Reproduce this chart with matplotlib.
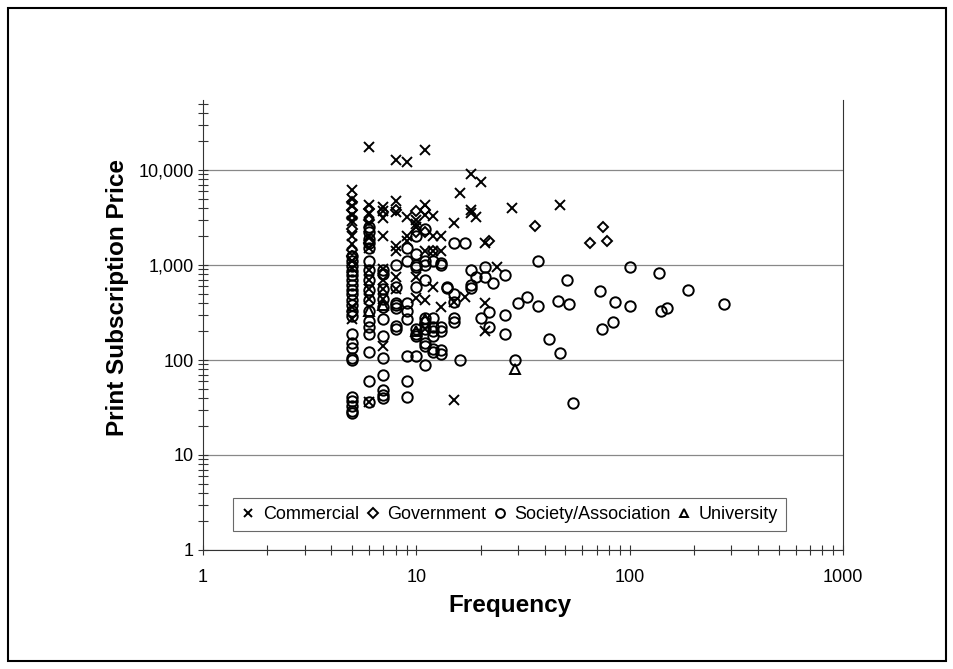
import matplotlib
matplotlib.use("Agg")
import matplotlib.pyplot as plt
from matplotlib.patches import Rectangle
from matplotlib.ticker import FixedLocator, LogLocator, NullFormatter

plt.rcParams['font.family'] = ['Liberation Sans', 'DejaVu Sans']

# frequency (issues per year) and print subscription price
commercial_freq = [5, 5, 5, 5, 5, 5, 5, 5, 5, 5, 5,
                   6, 6, 6, 6, 6, 6, 6, 6, 6, 6, 6,
                   7, 7, 7, 7, 7, 7, 7, 7, 7,
                   8, 8, 8, 8, 8, 8, 8,
                   9, 9, 9, 9,
                   10, 10, 10, 10, 10,
                   11, 11, 11, 11, 11, 11,
                   12, 12, 12, 12,
                   13, 13, 13,
                   15, 15, 15,
                   16, 17, 18, 18, 18, 19, 20,
                   21, 21, 21, 24, 28, 47]
commercial_price = [6100, 4900, 4200, 3400, 2900, 2000, 1650, 1100, 940, 360, 270,
                    17500, 4300, 3500, 2800, 2000, 1500, 880, 700, 560, 440, 36,
                    4100, 3700, 3100, 2000, 900, 700, 560, 440, 140,
                    12700, 4700, 3600, 1600, 1400, 750, 560,
                    12100, 3200, 2000, 1800,
                    3000, 2700, 2500, 750, 450,
                    16300, 4300, 3400, 1400, 430, 210,
                    3300, 2000, 1400, 580,
                    2000, 1400, 360,
                    2800, 410, 38,
                    5800, 460, 9000, 3800, 3500, 3200, 7500,
                    1700, 400, 200, 950, 4000, 4300]

government_freq = [5, 5, 5, 5, 5, 5, 6, 6, 6, 7, 8, 10, 10, 11, 11, 12,
                   22, 36, 65, 75, 78]
government_price = [4600, 3800, 3100, 2400, 1450, 1250, 3900, 3000, 1700, 3600,
                    3800, 3700, 2200, 3800, 2200, 1400,
                    1800, 2600, 1700, 2500, 1800]

society_freq = [5, 5, 5, 5, 5, 5, 5, 5, 5, 5, 5, 5, 5, 5, 5, 5, 5, 5, 5, 5, 5, 5, 5,
                6, 6, 6, 6, 6, 6, 6, 6, 6, 6, 6, 6, 6, 6, 6, 6, 6,
                7, 7, 7, 7, 7, 7, 7, 7, 7, 7, 7, 7,
                8, 8, 8, 8, 8, 8, 8,
                9, 9, 9, 9, 9, 9, 9, 9,
                10, 10, 10, 10, 10, 10, 10, 10, 10,
                11, 11, 11, 11, 11, 11, 11, 11, 11, 11,
                12, 12, 12, 12, 12, 12, 12,
                13, 13, 13, 13, 13, 13,
                14, 14,
                15, 15, 15, 15, 15,
                16, 17, 18, 18, 18, 19, 20, 21, 21, 22, 22, 23,
                26, 26, 26, 29, 30, 33, 37, 37, 42, 46, 47, 51, 52, 54,
                73, 74, 84, 85, 100, 100, 138, 141, 150, 187, 276]
society_price = [1250, 1100, 980, 870, 780, 700, 620, 550, 490, 430, 380, 330, 290,
                 190, 150, 135, 105, 100, 41, 37, 33, 29, 28,
                 2500, 2200, 1900, 1700, 1500, 1100, 880, 700, 540, 430, 330, 260,
                 220, 190, 120, 60, 36,
                 890, 800, 560, 440, 360, 270, 180, 105, 70, 48, 43, 40,
                 1000, 590, 400, 380, 350, 230, 210,
                 1500, 1100, 400, 330, 270, 110, 60, 41,
                 2000, 1300, 1000, 950, 590, 210, 190, 180, 110,
                 2400, 1100, 1000, 700, 280, 250, 210, 150, 140, 88,
                 1100, 280, 220, 200, 180, 130, 120,
                 1050, 1000, 220, 200, 128, 115,
                 590, 570,
                 1700, 490, 410, 280, 250,
                 100, 1700, 880, 620, 570, 750, 280, 950, 750, 320, 220, 650,
                 780, 300, 190, 100, 400, 460, 1100, 370, 165, 420, 118, 700, 390, 35,
                 530, 210, 250, 410, 960, 370, 830, 330, 350, 550, 390]

university_freq = [6, 7, 10, 11, 29]
university_price = [330, 380, 200, 270, 80]

fig = plt.figure(figsize=(9.54, 6.69), dpi=100)
ax = fig.add_axes([0.2128, 0.1779, 0.6708, 0.6726])

mk = dict(linestyle='none', color='black', mfc='none', mec='black', mew=1.4)
ax.plot(commercial_freq, commercial_price, marker='x', ms=7.5, label='Commercial', **mk)
ax.plot(government_freq, government_price, marker='D', ms=5.5, label='Government', **mk)
ax.plot(society_freq, society_price, marker='o', ms=7.5, label='Society/Association', **mk)
ax.plot(university_freq, university_price, marker='^', ms=7.5, label='University', **mk)

ax.set_xscale('log')
ax.set_yscale('log')
ax.set_xlim(1, 1000)
ax.set_ylim(1, 54600)

ax.xaxis.set_major_locator(FixedLocator([1, 10, 100, 1000]))
ax.xaxis.set_minor_locator(LogLocator(base=10, subs=range(2, 10)))
ax.xaxis.set_minor_formatter(NullFormatter())
ax.set_xticklabels(['1', '10', '100', '1000'])
ax.yaxis.set_major_locator(FixedLocator([1, 10, 100, 1000, 10000]))
ax.yaxis.set_minor_locator(LogLocator(base=10, subs=range(2, 10)))
ax.yaxis.set_minor_formatter(NullFormatter())
ax.set_yticklabels(['1', '10', '100', '1,000', '10,000'])

ax.tick_params(which='both', direction='inout', length=7, width=0.8, colors='#333333',
               labelcolor='black', labelsize=13)
ax.tick_params(axis='x', pad=10)
ax.tick_params(axis='y', pad=3)

ax.grid(axis='y', which='major', color='#888888', lw=0.9)
ax.set_axisbelow(True)
ax.spines['top'].set_visible(False)
for s in ['left', 'bottom', 'right']:
    ax.spines[s].set_linewidth(0.8)
    ax.spines[s].set_color('#333333')

ax.set_xlabel('Frequency', fontsize=17.5, fontweight='bold', va='center')
ax.set_ylabel('Print Subscription Price', fontsize=17.5, fontweight='bold', va='center')
ax.xaxis.set_label_coords(0.48, -0.124)
ax.yaxis.set_label_coords(-0.134, 0.562)

leg = ax.legend(loc='lower left', bbox_to_anchor=(0.047, 0.042, 0.864, 0.076),
                mode='expand', ncol=4, fontsize=13, frameon=True, fancybox=False,
                handlelength=0.8, handletextpad=0.4, borderaxespad=0, markerscale=0.85,
                borderpad=0.45)
leg.get_frame().set_edgecolor('#444444')
leg.get_frame().set_linewidth(0.8)

fig.patches.append(Rectangle((8 / 954, 8 / 669), 938 / 954, 653 / 669,
                             transform=fig.transFigure, fill=False,
                             edgecolor='black', lw=1.5))

fig.savefig('out.png', dpi=100)
